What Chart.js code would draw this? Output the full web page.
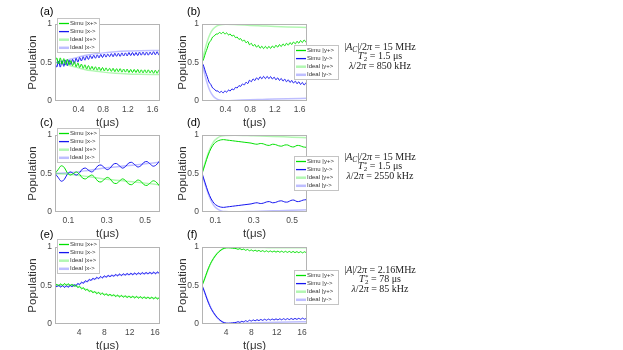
<!DOCTYPE html>
<html>
<head>
<meta charset="utf-8">
<script src="https://cdn.jsdelivr.net/npm/chart.js@4/dist/chart.umd.min.js"></script>
<style>
body { margin:0; background:#fff; width:623px; height:350px; position:relative; overflow:hidden; font-family:"Liberation Sans", Arial, sans-serif; }
canvas { position:absolute; }
.note { position:absolute; left:320px; width:120px; text-align:center; font-family:"Liberation Serif", serif; font-size:10px; line-height:9px; color:#222; }
.note sub { font-size:7.5px; line-height:0; vertical-align:-2px; }
.note .ss { display:inline-block; vertical-align:-2px; font-size:7px; line-height:4.5px; text-align:left; margin-left:0.5px; }
.note .ss span { display:block; }
</style>
</head>
<body>
<canvas id="pa" width="175" height="127" style="left:0;top:4px"></canvas>
<canvas id="pb" width="195" height="127" style="left:150px;top:4px"></canvas>
<canvas id="pc" width="175" height="127" style="left:0;top:115px"></canvas>
<canvas id="pd" width="195" height="127" style="left:150px;top:115px"></canvas>
<canvas id="pe" width="175" height="127" style="left:0;top:227px"></canvas>
<canvas id="pf" width="195" height="127" style="left:150px;top:227px"></canvas>
<div class="note" id="n1" style="top:41.5px"></div>
<div class="note" id="n2" style="top:151.5px"></div>
<div class="note" id="n3" style="top:264.5px"></div>
<script>
// tick labels
const yTicks = [0, 0.5, 1];
const ticksAB = [0.4, 0.8, 1.2, 1.6];
const ticksCD = [0.1, 0.3, 0.5];
const ticksEF = [4, 8, 12, 16];

const labelsX = ['Simu |x+>', 'Simu |x->', 'Ideal |x+>', 'Ideal |x->'];
const labelsY = ['Simu |y+>', 'Simu |y->', 'Ideal |y+>', 'Ideal |y->'];

// (a) simulation, sampled from t=0.02 every 0.0285 us
const simuXPlusA = [0.50, 0.56, 0.48, 0.56, 0.48, 0.55, 0.475, 0.54, 0.47, 0.525, 0.46, 0.51, 0.445, 0.495, 0.435, 0.48, 0.425, 0.47, 0.415, 0.46, 0.41, 0.45, 0.405, 0.445, 0.40, 0.44, 0.395, 0.435, 0.39, 0.43, 0.39, 0.425, 0.385, 0.425, 0.38, 0.42, 0.38, 0.42, 0.375, 0.415, 0.375, 0.415, 0.37, 0.41, 0.37, 0.41, 0.37, 0.41, 0.365, 0.405, 0.365, 0.405, 0.365, 0.405, 0.365, 0.40, 0.36, 0.40, 0.36, 0.40, 0.365];
const simuXMinusA = [0.50, 0.44, 0.52, 0.44, 0.52, 0.45, 0.525, 0.46, 0.53, 0.475, 0.54, 0.49, 0.555, 0.505, 0.565, 0.52, 0.575, 0.53, 0.585, 0.54, 0.59, 0.55, 0.595, 0.555, 0.60, 0.56, 0.605, 0.565, 0.61, 0.57, 0.61, 0.575, 0.615, 0.575, 0.62, 0.58, 0.62, 0.58, 0.625, 0.585, 0.625, 0.585, 0.63, 0.59, 0.63, 0.59, 0.63, 0.59, 0.635, 0.595, 0.635, 0.595, 0.635, 0.595, 0.635, 0.60, 0.64, 0.60, 0.64, 0.60, 0.635];
const idealTA = [0.02, 0.1, 0.2, 0.3, 0.4, 0.5, 0.6, 0.8, 1.0, 1.2, 1.4, 1.72];
const idealXPlusA = [0.5, 0.49, 0.47, 0.45, 0.43, 0.41, 0.395, 0.375, 0.36, 0.352, 0.348, 0.344];
const idealXMinusA = [0.5, 0.51, 0.53, 0.55, 0.57, 0.59, 0.605, 0.625, 0.64, 0.648, 0.652, 0.656];

// (b)
const simuYPlusB = [0.50, 0.55, 0.625, 0.685, 0.755, 0.785, 0.83, 0.845, 0.87, 0.87, 0.89, 0.875, 0.895, 0.87, 0.885, 0.858, 0.87, 0.843, 0.855, 0.823, 0.83, 0.80, 0.81, 0.778, 0.792, 0.756, 0.774, 0.73, 0.75, 0.713, 0.735, 0.699, 0.723, 0.685, 0.712, 0.68, 0.71, 0.68, 0.71, 0.682, 0.715, 0.69, 0.725, 0.699, 0.733, 0.707, 0.742, 0.716, 0.75, 0.725, 0.759, 0.733, 0.767, 0.742, 0.776, 0.75, 0.785, 0.759, 0.793, 0.767, 0.80];
const simuYMinusB = [0.50, 0.45, 0.375, 0.315, 0.245, 0.215, 0.17, 0.155, 0.13, 0.13, 0.11, 0.125, 0.105, 0.13, 0.115, 0.142, 0.13, 0.157, 0.145, 0.177, 0.17, 0.20, 0.19, 0.222, 0.208, 0.244, 0.226, 0.27, 0.25, 0.287, 0.265, 0.301, 0.277, 0.315, 0.288, 0.32, 0.29, 0.32, 0.29, 0.318, 0.285, 0.31, 0.275, 0.301, 0.267, 0.293, 0.258, 0.284, 0.25, 0.275, 0.241, 0.267, 0.233, 0.258, 0.224, 0.25, 0.215, 0.241, 0.207, 0.233, 0.20];
const idealTB = [0.02, 0.06, 0.1, 0.15, 0.2, 0.25, 0.3, 0.35, 0.4, 0.6, 0.8, 1.0, 1.2, 1.4, 1.72];
const idealYPlusB = [0.5, 0.64, 0.76, 0.87, 0.935, 0.97, 0.988, 0.995, 0.996, 0.99, 0.982, 0.975, 0.968, 0.962, 0.955];
const idealYMinusB = [0.5, 0.36, 0.24, 0.13, 0.065, 0.03, 0.012, 0.005, 0.004, 0.01, 0.016, 0.021, 0.026, 0.03, 0.035];

// (c) sampled from t=0.03 every 0.016 us
const simuXPlusC = [0.50, 0.55, 0.60, 0.58, 0.51, 0.48, 0.50, 0.52, 0.49, 0.44, 0.43, 0.46, 0.48, 0.45, 0.40, 0.39, 0.42, 0.45, 0.43, 0.38, 0.37, 0.40, 0.43, 0.41, 0.365, 0.355, 0.385, 0.415, 0.40, 0.355, 0.345, 0.375, 0.405, 0.39, 0.34];
const simuXMinusC = [0.50, 0.45, 0.40, 0.42, 0.49, 0.52, 0.50, 0.48, 0.51, 0.56, 0.57, 0.54, 0.52, 0.55, 0.60, 0.61, 0.58, 0.55, 0.57, 0.62, 0.63, 0.60, 0.57, 0.59, 0.635, 0.645, 0.615, 0.585, 0.60, 0.645, 0.655, 0.625, 0.595, 0.61, 0.66];
const idealTC = [0.03, 0.1, 0.2, 0.3, 0.4, 0.5, 0.578];
const idealXPlusC = [0.5, 0.49, 0.46, 0.425, 0.40, 0.375, 0.355];
const idealXMinusC = [0.5, 0.51, 0.54, 0.575, 0.60, 0.625, 0.645];

// (d)
const simuYPlusD = [0.50, 0.62, 0.74, 0.83, 0.89, 0.92, 0.935, 0.94, 0.935, 0.93, 0.925, 0.92, 0.915, 0.91, 0.905, 0.90, 0.895, 0.885, 0.88, 0.89, 0.885, 0.87, 0.865, 0.88, 0.875, 0.86, 0.855, 0.87, 0.87, 0.85, 0.845, 0.865, 0.86, 0.845, 0.84];
const simuYMinusD = [0.50, 0.38, 0.26, 0.17, 0.11, 0.08, 0.065, 0.06, 0.065, 0.07, 0.075, 0.08, 0.085, 0.09, 0.095, 0.10, 0.105, 0.115, 0.12, 0.11, 0.115, 0.13, 0.135, 0.12, 0.125, 0.14, 0.145, 0.13, 0.13, 0.15, 0.155, 0.135, 0.14, 0.155, 0.16];
const idealTD = [0.03, 0.05, 0.07, 0.09, 0.11, 0.13, 0.15, 0.2, 0.3, 0.4, 0.5, 0.578];
const idealYPlusD = [0.5, 0.67, 0.81, 0.91, 0.96, 0.985, 0.995, 0.998, 0.99, 0.982, 0.972, 0.965];
const idealYMinusD = [0.5, 0.33, 0.19, 0.09, 0.04, 0.015, 0.005, 0.002, 0.008, 0.015, 0.022, 0.028];

// (e) sampled from t=0.2 every 0.3 us
const simuXPlusE = [0.50, 0.516, 0.496, 0.523, 0.501, 0.526, 0.503, 0.524, 0.497, 0.518, 0.488, 0.505, 0.473, 0.489, 0.456, 0.471, 0.438, 0.453, 0.42, 0.435, 0.404, 0.422, 0.392, 0.411, 0.382, 0.402, 0.373, 0.394, 0.367, 0.388, 0.361, 0.382, 0.355, 0.376, 0.35, 0.372, 0.346, 0.368, 0.342, 0.365, 0.339, 0.362, 0.336, 0.359, 0.334, 0.356, 0.331, 0.354, 0.329, 0.352, 0.327, 0.35, 0.325, 0.348, 0.323, 0.347];
const simuXMinusE = [0.50, 0.484, 0.504, 0.477, 0.499, 0.474, 0.497, 0.476, 0.503, 0.482, 0.512, 0.495, 0.527, 0.511, 0.544, 0.529, 0.562, 0.547, 0.58, 0.565, 0.596, 0.578, 0.608, 0.589, 0.618, 0.598, 0.627, 0.606, 0.633, 0.612, 0.639, 0.618, 0.645, 0.624, 0.65, 0.628, 0.654, 0.632, 0.658, 0.635, 0.661, 0.638, 0.664, 0.641, 0.666, 0.644, 0.669, 0.646, 0.671, 0.648, 0.673, 0.65, 0.675, 0.652, 0.677, 0.653];
const idealTE = [0.2, 1, 2, 3, 4, 5, 6, 7, 8, 9, 10, 12, 14, 16.8];
const idealXPlusE = [0.5, 0.508, 0.513, 0.503, 0.48, 0.452, 0.425, 0.405, 0.388, 0.376, 0.366, 0.353, 0.344, 0.335];
const idealXMinusE = [0.5, 0.492, 0.487, 0.497, 0.52, 0.548, 0.575, 0.595, 0.612, 0.624, 0.634, 0.647, 0.656, 0.665];

// (f)
const simuYPlusF = [0.50, 0.56, 0.63, 0.70, 0.76, 0.81, 0.85, 0.885, 0.915, 0.94, 0.96, 0.975, 0.985, 0.99, 0.99, 0.988, 0.985, 0.982, 0.979, 0.97, 0.979, 0.964, 0.973, 0.957, 0.968, 0.951, 0.962, 0.947, 0.959, 0.944, 0.956, 0.941, 0.953, 0.938, 0.951, 0.936, 0.949, 0.935, 0.948, 0.933, 0.947, 0.932, 0.946, 0.931, 0.944, 0.93, 0.943, 0.928, 0.942, 0.927, 0.94, 0.926, 0.939, 0.924, 0.938, 0.923];
const simuYMinusF = [0.50, 0.44, 0.37, 0.30, 0.24, 0.19, 0.15, 0.115, 0.085, 0.06, 0.04, 0.025, 0.015, 0.01, 0.01, 0.012, 0.015, 0.018, 0.021, 0.03, 0.021, 0.036, 0.027, 0.043, 0.032, 0.049, 0.038, 0.053, 0.041, 0.056, 0.044, 0.059, 0.047, 0.062, 0.049, 0.064, 0.051, 0.065, 0.052, 0.067, 0.053, 0.068, 0.054, 0.069, 0.056, 0.07, 0.057, 0.072, 0.058, 0.073, 0.06, 0.074, 0.061, 0.076, 0.062, 0.077];
const idealTF = [0.2, 0.6, 1.0, 1.5, 2.0, 2.5, 3.0, 3.5, 4.0, 5, 6, 8, 10, 12, 14, 16.8];
const idealYPlusF = [0.5, 0.585, 0.67, 0.77, 0.85, 0.91, 0.95, 0.978, 0.99, 0.995, 0.995, 0.994, 0.992, 0.99, 0.99, 0.989];
const idealYMinusF = [0.5, 0.415, 0.33, 0.23, 0.15, 0.09, 0.05, 0.022, 0.01, 0.005, 0.007, 0.013, 0.018, 0.023, 0.027, 0.03];

const T2 = '<i>T</i><span class="ss"><span>*</span><span>2</span></span>';
const notes = [
  ['|<i>A</i><sub><i>C</i></sub>|/2<i>π</i> = 15 MHz', T2 + ' = 1.5 μs', '<i>λ</i>/2<i>π</i> = 850 kHz'],
  ['|<i>A</i><sub><i>C</i></sub>|/2<i>π</i> = 15 MHz', T2 + ' = 1.5 μs', '<i>λ</i>/2<i>π</i> = 2550 kHz'],
  ['|<i>A</i>|/2<i>π</i> = 2.16MHz', T2 + ' = 78 μs', '<i>λ</i>/2<i>π</i> = 85 kHz']
];
notes.forEach((lines, i) => { document.getElementById('n' + (i + 1)).innerHTML = lines.join('<br>'); });

const FONT = '"Liberation Sans", Arial, sans-serif';
const GREEN = '#00e000';
const BLUE = '#1515f0';
const GREEN_LIGHT = 'rgba(0,230,0,0.3)';
const BLUE_LIGHT = 'rgba(40,40,255,0.3)';

function sampled(t0, dt, vals) {
  return vals.map((v, i) => ({ x: t0 + i * dt, y: v }));
}
function paired(ts, vals) {
  return ts.map((t, i) => ({ x: t, y: vals[i] }));
}

// box, panel letter and legend
const deco = {
  id: 'deco',
  afterDatasetsDraw(chart, args, opts) {
    const { ctx, chartArea: a } = chart;
    ctx.save();
    ctx.strokeStyle = '#b4b4b4';
    ctx.lineWidth = 1;
    ctx.strokeRect(a.left + 0.5, a.top + 0.5, a.right - a.left - 1, a.bottom - a.top - 1);

    ctx.fillStyle = '#000';
    ctx.font = '11px ' + FONT;
    ctx.textBaseline = 'middle';
    ctx.fillText(opts.label, a.left - 15, a.top - 12);

    const w = opts.legendRight ? 44 : 42;
    const lx = opts.legendRight ? a.right - 13 : a.left + 2;
    const ly = a.top + opts.legendDy;
    ctx.fillStyle = '#fff';
    ctx.fillRect(lx, ly, w, 34);
    ctx.strokeStyle = '#c4c4c4';
    ctx.strokeRect(lx + 0.5, ly + 0.5, w, 34);
    ctx.font = '6px ' + FONT;
    chart.data.datasets.forEach((ds, i) => {
      const y = ly + 5.5 + i * 8.1;
      ctx.strokeStyle = ds.borderColor;
      ctx.lineWidth = i < 2 ? 1.3 : 2.5;
      ctx.beginPath();
      ctx.moveTo(lx + 2, y);
      ctx.lineTo(lx + 12, y);
      ctx.stroke();
      ctx.fillStyle = '#333';
      ctx.fillText(ds.label, lx + 13, y);
    });
    ctx.restore();
  }
};

function makePanel(p) {
  const datasets = [
    { label: p.labels[0], data: sampled(p.t0, p.dt, p.simuPlus), borderColor: GREEN, borderWidth: 1, tension: 0.3, order: 0 },
    { label: p.labels[1], data: sampled(p.t0, p.dt, p.simuMinus), borderColor: BLUE, borderWidth: 1, tension: 0.3, order: 0 },
    { label: p.labels[2], data: paired(p.idealT, p.idealPlus), borderColor: GREEN_LIGHT, borderWidth: 1.5, cubicInterpolationMode: 'monotone', order: 1 },
    { label: p.labels[3], data: paired(p.idealT, p.idealMinus), borderColor: BLUE_LIGHT, borderWidth: 1.5, cubicInterpolationMode: 'monotone', order: 1 }
  ];
  datasets.forEach(d => { d.pointRadius = 0; d.fill = false; });

  new Chart(document.getElementById(p.id), {
    type: 'line',
    data: { datasets },
    plugins: [deco],
    options: {
      responsive: false,
      animation: false,
      devicePixelRatio: 1,
      layout: { padding: { left: 20, top: 20, right: p.padRight, bottom: 0 } },
      plugins: {
        legend: { display: false },
        tooltip: { enabled: false },
        deco: { label: p.label, legendRight: p.legendRight, legendDy: p.legendDy }
      },
      scales: {
        x: {
          type: 'linear',
          min: p.xMin,
          max: p.xMax,
          afterBuildTicks: s => { s.ticks = p.xTicks.map(v => ({ value: v })); },
          afterFit: s => { s.height = 30; },
          grid: { display: false, drawTicks: false },
          border: { display: false },
          ticks: { color: '#4a4a4a', font: { size: 8.5, family: FONT }, padding: 4, maxRotation: 0, callback: v => String(v) },
          title: { display: true, text: 't(μs)', color: '#333', font: { size: 11.5, family: FONT }, padding: { top: 0, bottom: 1 } }
        },
        y: {
          min: 0,
          max: 1,
          afterBuildTicks: s => { s.ticks = yTicks.map(v => ({ value: v })); },
          afterFit: s => { s.width = p.yWidth; },
          grid: { display: false, drawTicks: false },
          border: { display: false },
          ticks: { color: '#4a4a4a', font: { size: 8.5, family: FONT }, padding: 3, callback: v => String(v) },
          title: { display: true, text: 'Population', color: '#333', font: { size: 11.5, family: FONT }, padding: { top: 6, bottom: 0 } }
        }
      }
    }
  });
}

const left = { padRight: 15, yWidth: 35, legendRight: false, labels: labelsX };
const right = { padRight: 38, yWidth: 32, legendRight: true, labels: labelsY };

makePanel({ ...left, id: 'pa', label: '(a)', legendDy: -6, xMin: 0.02, xMax: 1.72, xTicks: ticksAB, t0: 0.02, dt: 0.0285,
  simuPlus: simuXPlusA, simuMinus: simuXMinusA, idealT: idealTA, idealPlus: idealXPlusA, idealMinus: idealXMinusA });
makePanel({ ...right, id: 'pb', label: '(b)', legendDy: 21, xMin: 0.02, xMax: 1.72, xTicks: ticksAB, t0: 0.02, dt: 0.0285,
  simuPlus: simuYPlusB, simuMinus: simuYMinusB, idealT: idealTB, idealPlus: idealYPlusB, idealMinus: idealYMinusB });
makePanel({ ...left, id: 'pc', label: '(c)', legendDy: -7, xMin: 0.03, xMax: 0.578, xTicks: ticksCD, t0: 0.03, dt: 0.016,
  simuPlus: simuXPlusC, simuMinus: simuXMinusC, idealT: idealTC, idealPlus: idealXPlusC, idealMinus: idealXMinusC });
makePanel({ ...right, id: 'pd', label: '(d)', legendDy: 21, xMin: 0.03, xMax: 0.578, xTicks: ticksCD, t0: 0.03, dt: 0.016,
  simuPlus: simuYPlusD, simuMinus: simuYMinusD, idealT: idealTD, idealPlus: idealYPlusD, idealMinus: idealYMinusD });
makePanel({ ...left, id: 'pe', label: '(e)', legendDy: -8, xMin: 0.2, xMax: 16.8, xTicks: ticksEF, t0: 0.2, dt: 0.3,
  simuPlus: simuXPlusE, simuMinus: simuXMinusE, idealT: idealTE, idealPlus: idealXPlusE, idealMinus: idealXMinusE });
makePanel({ ...right, id: 'pf', label: '(f)', legendDy: 23, xMin: 0.2, xMax: 16.8, xTicks: ticksEF, t0: 0.2, dt: 0.3,
  simuPlus: simuYPlusF, simuMinus: simuYMinusF, idealT: idealTF, idealPlus: idealYPlusF, idealMinus: idealYMinusF });
</script>
</body>
</html>
